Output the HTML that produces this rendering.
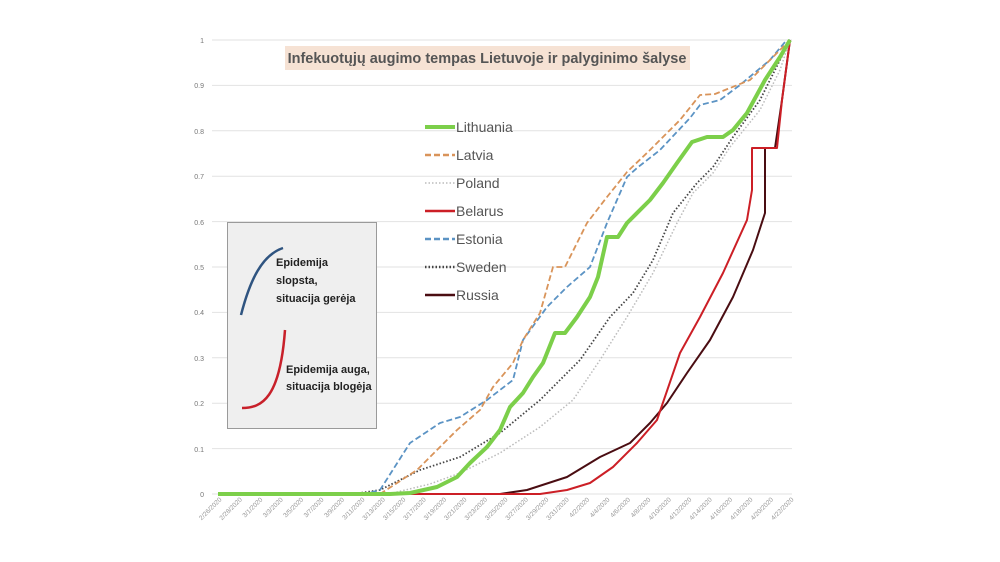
<!DOCTYPE html>
<html><head><meta charset="utf-8"><style>
body{margin:0;background:#fff}
svg{display:block;font-family:"Liberation Sans",sans-serif}
</style></head><body>
<svg width="1000" height="562" viewBox="0 0 1000 562">
<rect width="1000" height="562" fill="#fff"/>
<g stroke="#e2e2e2" stroke-width="1">
<line x1="212" y1="40" x2="792" y2="40"/><line x1="212" y1="85.4" x2="792" y2="85.4"/>
<line x1="212" y1="130.8" x2="792" y2="130.8"/><line x1="212" y1="176.2" x2="792" y2="176.2"/>
<line x1="212" y1="221.6" x2="792" y2="221.6"/><line x1="212" y1="267" x2="792" y2="267"/>
<line x1="212" y1="312.4" x2="792" y2="312.4"/><line x1="212" y1="357.8" x2="792" y2="357.8"/>
<line x1="212" y1="403.2" x2="792" y2="403.2"/><line x1="212" y1="448.6" x2="792" y2="448.6"/>
<line x1="212" y1="494" x2="792" y2="494"/>
</g>
<g font-size="7" fill="#777" text-anchor="end">
<text x="204" y="43">1</text><text x="204" y="88">0.9</text><text x="204" y="134">0.8</text>
<text x="204" y="179">0.7</text><text x="204" y="225">0.6</text><text x="204" y="270">0.5</text>
<text x="204" y="315">0.4</text><text x="204" y="361">0.3</text><text x="204" y="406">0.2</text>
<text x="204" y="452">0.1</text><text x="204" y="497">0</text>
</g>
<g font-size="6.5" fill="#999" text-anchor="end">
<text transform="translate(222,500) rotate(-45)">2/26/2020</text>
<text transform="translate(242.4,500) rotate(-45)">2/28/2020</text>
<text transform="translate(262.9,500) rotate(-45)">3/1/2020</text>
<text transform="translate(283.3,500) rotate(-45)">3/3/2020</text>
<text transform="translate(303.7,500) rotate(-45)">3/5/2020</text>
<text transform="translate(324.1,500) rotate(-45)">3/7/2020</text>
<text transform="translate(344.6,500) rotate(-45)">3/9/2020</text>
<text transform="translate(365,500) rotate(-45)">3/11/2020</text>
<text transform="translate(385.4,500) rotate(-45)">3/13/2020</text>
<text transform="translate(405.9,500) rotate(-45)">3/15/2020</text>
<text transform="translate(426.3,500) rotate(-45)">3/17/2020</text>
<text transform="translate(446.7,500) rotate(-45)">3/19/2020</text>
<text transform="translate(467.1,500) rotate(-45)">3/21/2020</text>
<text transform="translate(487.6,500) rotate(-45)">3/23/2020</text>
<text transform="translate(508,500) rotate(-45)">3/25/2020</text>
<text transform="translate(528.4,500) rotate(-45)">3/27/2020</text>
<text transform="translate(548.9,500) rotate(-45)">3/29/2020</text>
<text transform="translate(569.3,500) rotate(-45)">3/31/2020</text>
<text transform="translate(589.7,500) rotate(-45)">4/2/2020</text>
<text transform="translate(610.1,500) rotate(-45)">4/4/2020</text>
<text transform="translate(630.6,500) rotate(-45)">4/6/2020</text>
<text transform="translate(651,500) rotate(-45)">4/8/2020</text>
<text transform="translate(671.4,500) rotate(-45)">4/10/2020</text>
<text transform="translate(691.9,500) rotate(-45)">4/12/2020</text>
<text transform="translate(712.3,500) rotate(-45)">4/14/2020</text>
<text transform="translate(732.7,500) rotate(-45)">4/16/2020</text>
<text transform="translate(753.1,500) rotate(-45)">4/18/2020</text>
<text transform="translate(773.6,500) rotate(-45)">4/20/2020</text>
<text transform="translate(794,500) rotate(-45)">4/22/2020</text>
</g>
<!-- inset box -->
<rect x="227.5" y="222.5" width="149" height="206" fill="#efefef" stroke="#9a9a9a" stroke-width="1"/>
<path d="M241,315 C250,280 262,255 283,248" fill="none" stroke="#2f5480" stroke-width="2.5"/>
<path d="M242,408 C262,408 280,398 285,330" fill="none" stroke="#c8202a" stroke-width="2.5"/>
<g font-size="11" font-weight="bold" fill="#222">
<text x="276" y="266">Epidemija</text><text x="276" y="284">slopsta,</text><text x="276" y="302">situacija gerėja</text>
<text x="286" y="373">Epidemija auga,</text><text x="286" y="390">situacija blogėja</text>
</g>
<!-- series -->
<g fill="none" stroke-linejoin="round">
<polyline stroke="#4a0d12" stroke-width="2" points="218,494 500,494 527,490 567,477 600,457 630,443 650,423 667,403 687,373 710,340 733,297 753,250 765,213 765,148 775,148 782,100 790,40"/>
<polyline stroke="#cc1f26" stroke-width="2" points="218,494 540,494 567,490 590,483 613,467 637,443 657,420 680,353 700,317 723,273 747,220 752,190 752,148 760,148 777,148 782,100 790,40"/>
<polyline stroke="#bbbbbb" stroke-width="1.5" stroke-dasharray="1.5,2" points="218,494 393,493 430,484 460,473 500,453 540,427 573,400 600,360 627,317 653,273 677,223 693,193 713,173 730,147 760,110 780,70 790,40"/>
<polyline stroke="#444" stroke-width="1.8" stroke-dasharray="1.5,2" points="218,494 360,493 380,490 420,470 460,457 500,433 540,400 580,360 610,317 633,293 653,260 673,213 697,183 713,167 733,137 760,100 780,60 790,40"/>
<polyline stroke="#5b93c4" stroke-width="1.8" stroke-dasharray="6,3" points="218,494 365,494 380,490 410,443 440,423 460,417 487,400 513,380 523,340 547,307 567,287 590,267 607,223 627,177 637,168 660,150 690,118 700,105 720,100 740,85 770,60 785,42 790,40"/>
<polyline stroke="#d9945a" stroke-width="1.8" stroke-dasharray="6,3" points="218,494 380,494 417,470 437,450 457,430 480,410 493,387 513,363 523,340 540,313 553,267 565,267 587,223 607,197 627,172 650,150 680,120 700,95 715,94 750,80 770,60 790,40"/>
<polyline stroke="#7ccf4a" stroke-width="4" points="218,494 390,494 410,493 437,487 457,477 470,463 487,447 500,430 510,407 523,393 533,377 543,363 555,333 565,333 577,317 590,297 598,277 607,237 618,237 627,223 650,200 663,183 677,163 692,142 707,137 723,137 733,130 747,113 765,80 780,57 790,40"/>
</g>
<!-- legend -->
<g stroke-width="2.5" fill="none">
<line x1="425" y1="127" x2="455" y2="127" stroke="#7ccf4a" stroke-width="4"/>
<line x1="425" y1="155" x2="455" y2="155" stroke="#d9945a" stroke-dasharray="6,3"/>
<line x1="425" y1="183" x2="455" y2="183" stroke="#bbb" stroke-dasharray="1.5,2" stroke-width="1.5"/>
<line x1="425" y1="211" x2="455" y2="211" stroke="#cc1f26"/>
<line x1="425" y1="239" x2="455" y2="239" stroke="#5b93c4" stroke-dasharray="6,3"/>
<line x1="425" y1="267" x2="455" y2="267" stroke="#444" stroke-dasharray="1.5,2"/>
<line x1="425" y1="295" x2="455" y2="295" stroke="#4a0d12"/>
</g>
<g font-size="14" fill="#555">
<text x="456" y="132">Lithuania</text><text x="456" y="160">Latvia</text><text x="456" y="188">Poland</text>
<text x="456" y="216">Belarus</text><text x="456" y="244">Estonia</text><text x="456" y="272">Sweden</text>
<text x="456" y="300">Russia</text>
</g>
<!-- title -->
<rect x="285" y="46" width="405" height="24" fill="#f6e2d4"/>
<text x="487" y="63" font-size="14.5" font-weight="bold" fill="#555" text-anchor="middle">Infekuotųjų augimo tempas Lietuvoje ir palyginimo šalyse</text>
</svg>
</body></html>
